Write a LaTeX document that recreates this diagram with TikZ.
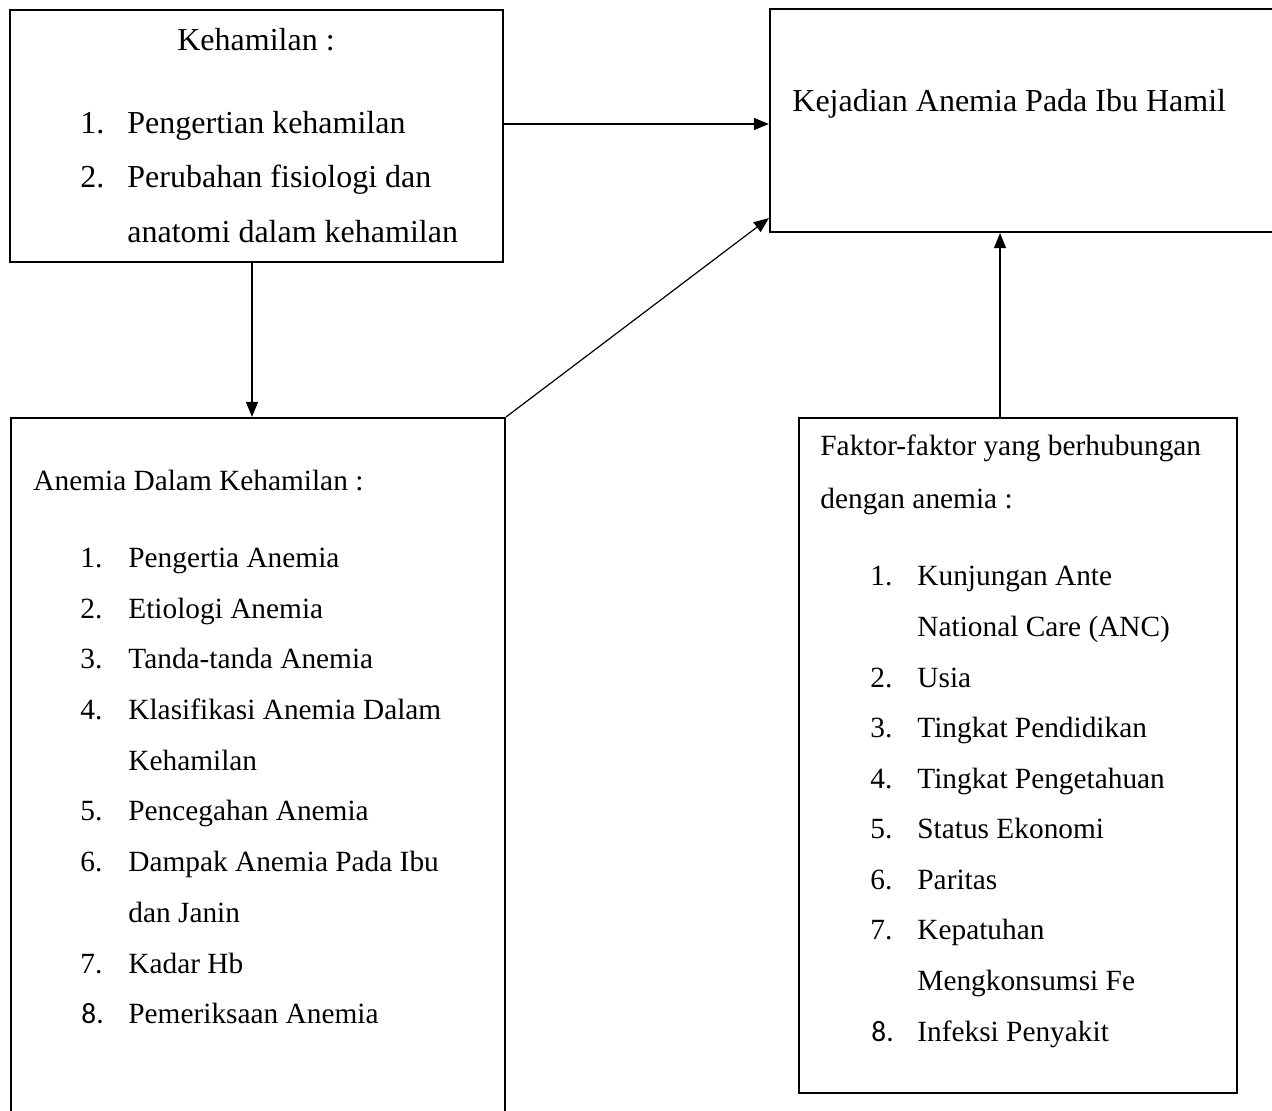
\documentclass[tikz,border=0pt]{standalone}
\usepackage{fontspec}
\setmainfont{Liberation Serif}
\newfontfamily\calfont{Carlito}
\usetikzlibrary{arrows.meta,fit}
\begin{document}
\begin{tikzpicture}[x=0.5pt,y=-0.5pt,
  box/.style={draw,line width=1.1pt,inner sep=0pt},
  txt/.style={anchor=base west,inner sep=0pt,font=\fontsize{16}{19}\selectfont},
  stxt/.style={anchor=base west,inner sep=0pt,font=\fontsize{14.67}{17.6}\selectfont},
  snum/.style={stxt,font=\fontsize{14.67}{17.6}\calfont},
  ctxt/.style={txt,anchor=base},
  arr/.style={line width=0.6pt,-{Triangle[length=7.5pt,width=6pt]}}]
\clip (0,0) rectangle (1272,1110);
\fill[white] (0,0) rectangle (1272,1110);
% boxes
\node[box,fit={(10,10) (503,262)}] (k) {};
\node[box,fit={(770,9) (1300,232)}] (kj) {};
\node[box,fit={(11,418) (505,1140)}] (a) {};
\node[box,fit={(799,418) (1237,1093)}] (f) {};
% box 1 text
\node[ctxt] (k0) at (256,50) {Kehamilan :};
\node[txt] (k1n) at (80,133) {1.};
\node[txt] (k1t) at (127,133) {Pengertian kehamilan};
\node[txt] (k2n) at (80,187) {2.};
\node[txt] (k2t) at (127,187) {Perubahan fisiologi dan};
\node[txt] (k2u) at (127,242) {anatomi dalam kehamilan};
% box 2 text
\node[txt] (kj0) at (792,111) {Kejadian Anemia Pada Ibu Hamil};
% box 3 text
\node[stxt] (a0) at (33,490) {Anemia Dalam Kehamilan :};
\node[stxt] (a1n) at (80,567) {1.};
\node[stxt] (a1t) at (128,567) {Pengertia Anemia};
\node[stxt] (a2n) at (80,618) {2.};
\node[stxt] (a2t) at (128,618) {Etiologi Anemia};
\node[stxt] (a3n) at (80,668) {3.};
\node[stxt] (a3t) at (128,668) {Tanda-tanda Anemia};
\node[stxt] (a4n) at (80,719) {4.};
\node[stxt] (a4t) at (128,719) {Klasifikasi Anemia Dalam};
\node[stxt] (a4u) at (128,770) {Kehamilan};
\node[stxt] (a5n) at (80,820) {5.};
\node[stxt] (a5t) at (128,820) {Pencegahan Anemia};
\node[stxt] (a6n) at (80,871) {6.};
\node[stxt] (a6t) at (128,871) {Dampak Anemia Pada Ibu};
\node[stxt] (a6u) at (128,922) {dan Janin};
\node[stxt] (a7n) at (80,973) {7.};
\node[stxt] (a7t) at (128,973) {Kadar Hb};
\node[snum] (a8n) at (81,1023) {8.};
\node[stxt] (a8t) at (128,1023) {Pemeriksaan Anemia};
% box 4 text
\node[stxt] (f0) at (820,455) {Faktor-faktor yang berhubungan};
\node[stxt] (f0u) at (820,508) {dengan anemia :};
\node[stxt] (f1n) at (870,585) {1.};
\node[stxt] (f1t) at (917,585) {Kunjungan Ante};
\node[stxt] (f1u) at (917,636) {National Care (ANC)};
\node[stxt] (f2n) at (870,687) {2.};
\node[stxt] (f2t) at (917,687) {Usia};
\node[stxt] (f3n) at (870,737) {3.};
\node[stxt] (f3t) at (917,737) {Tingkat Pendidikan};
\node[stxt] (f4n) at (870,788) {4.};
\node[stxt] (f4t) at (917,788) {Tingkat Pengetahuan};
\node[stxt] (f5n) at (870,838) {5.};
\node[stxt] (f5t) at (917,838) {Status Ekonomi};
\node[stxt] (f6n) at (870,889) {6.};
\node[stxt] (f6t) at (917,889) {Paritas};
\node[stxt] (f7n) at (870,939) {7.};
\node[stxt] (f7t) at (917,939) {Kepatuhan};
\node[stxt] (f7u) at (917,990) {Mengkonsumsi Fe};
\node[snum] (f8n) at (871,1041) {8.};
\node[stxt] (f8t) at (917,1041) {Infeksi Penyakit};
% connectors
\draw[arr] ([yshift=6pt]k.east) -- ([yshift=6pt]k.east -| kj.west);
\draw[arr] ([xshift=-2.25pt]k.south) -- ([xshift=-2.25pt]k.south |- a.north);
\draw[arr] (a.north east) -- ([yshift=7.5pt]kj.south west);
\draw[arr] ([xshift=-9pt]f.north) -- ([xshift=-9pt]f.north |- kj.south);
\end{tikzpicture}
\end{document}
